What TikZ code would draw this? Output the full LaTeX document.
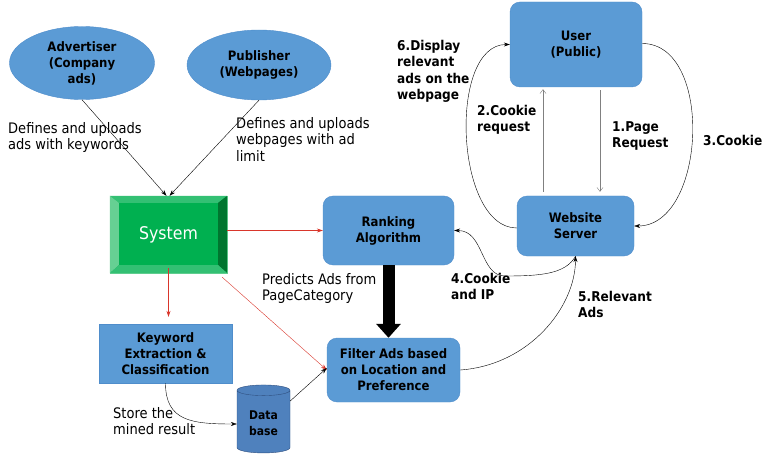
\documentclass[tikz,border=0pt]{standalone}
\usepackage{fontspec}
\setmainfont{DejaVu Sans Condensed}
\usetikzlibrary{arrows.meta,shapes.geometric,calc}

\definecolor{boxblue}{HTML}{5B9BD5}
\definecolor{boxline}{HTML}{4F8DCB}
\definecolor{dbblue}{HTML}{4F81BD}
\definecolor{dbline}{HTML}{2F4F7F}
\definecolor{sysface}{HTML}{00B050}
\definecolor{syslight}{HTML}{66D093}
\definecolor{systop}{HTML}{33C073}
\definecolor{sysdark}{HTML}{00762F}
\definecolor{redline}{HTML}{D9362B}

\newcommand{\nodefont}{\fontsize{13}{16}\selectfont\bfseries}
\newcommand{\labelfont}{\fontsize{14.5}{16.5}\selectfont}
\newcommand{\numfont}{\fontsize{13.5}{16.5}\selectfont\bfseries}

\tikzset{
  bluebox/.style={draw=boxline, fill=boxblue, rounded corners=10pt, align=center, font=\nodefont},
  flatbox/.style={draw=boxline, fill=boxblue, align=center, font=\nodefont},
  party/.style={ellipse, draw=boxline, fill=boxblue, align=center, font=\nodefont, inner sep=0pt},
  lbl/.style={anchor=north west, align=left, inner sep=0pt, font=\labelfont},
  numlbl/.style={lbl, font=\numfont},
  arr/.style={-{Stealth[length=6pt,width=4pt]}, black, thin},
  grayarr/.style={-{Straight Barb[length=4pt,width=6pt]}, gray, thin},
  redarr/.style={-{Stealth[length=6pt,width=4pt]}, redline, thin},
}

\begin{document}
\begin{tikzpicture}[x=1pt, y=-1pt]

    \useasboundingbox (0,0) rectangle (769,468);

    % Draw the two parties that feed the system
    \node[party, minimum width=145pt, minimum height=73pt] (adv) at (82,63) {Advertiser\\(Company\\ads)};
    \node[party, minimum width=144pt, minimum height=70pt] (pub) at (259,65) {Publisher\\(Webpages)};

    % Draw the system with its bevel
    \node[fill=sysface, draw=syslight, minimum width=117pt, minimum height=77pt] (sys) at (168.5,234.5) {};
    \fill[systop] (sys.north west) -- (sys.north east) -- ($(sys.north east)+(-9,7)$) -- ($(sys.north west)+(9,7)$) -- cycle;
    \fill[syslight] (sys.north west) -- ($(sys.north west)+(9,7)$) -- ($(sys.south west)+(9,-8)$) -- (sys.south west) -- cycle;
    \fill[sysdark] (sys.north east) -- (sys.south east) -- ($(sys.south east)+(-9,-8)$) -- ($(sys.north east)+(-9,7)$) -- cycle;
    \fill[systop] (sys.south west) -- ($(sys.south west)+(9,-8)$) -- ($(sys.south east)+(-9,-8)$) -- (sys.south east) -- cycle;
    \node[text=white, font=\fontsize{17.5}{20}\selectfont] (systext) at (sys) {System};

    % Draw the processing boxes
    \node[bluebox, minimum width=131pt, minimum height=69pt] (rank) at (388.5,230.5) {Ranking\\Algorithm};
    \node[flatbox, minimum width=133pt, minimum height=59pt] (key) at (165.5,353.5) {Keyword\\Extraction \&\\Classification};
    \node[bluebox, minimum width=133pt, minimum height=64pt] (filt) at (393.5,370) {Filter Ads based\\on Location and\\Preference};
    \node[cylinder, shape border rotate=90, aspect=0.3, draw=dbline, fill=dbblue,
          minimum width=53pt, minimum height=68pt, align=left, font=\fontsize{12}{16}\selectfont\bfseries] (db) at (263.5,423) {Data\\base};

    % Draw the user and the website server
    \node[bluebox, minimum width=132pt, minimum height=85pt] (user) at (576,44.5) {User\\(Public)};
    \node[bluebox, minimum width=117pt, minimum height=60pt] (web) at (575.5,226) {Website\\Server};

    % Connectors into the system
    \draw[arr] (adv.south) -- ([xshift=-2pt]sys.north);
    \draw[arr] (pub.south) -- ([xshift=1pt]sys.north);
    \node[lbl] (defads) at (8,122) {Defines and uploads\\ads with keywords};
    \node[lbl] (defweb) at (236,117) {Defines and uploads\\webpages with ad\\limit};

    % Red connectors out of the system
    \draw[redarr] (sys.east |- rank.west) -- (rank.west);
    \draw[redarr] ([yshift=5pt]sys.south) -- ([yshift=7pt]sys.south |- key.north);
    \draw[redarr] ([shift={(-5,4)}]sys.south east) -- (filt.west);

    % Ranking to filter
    \draw[line width=12pt, -{Triangle[length=14pt,width=24pt]}] (rank.south) -- (rank.south |- filt.north);
    \node[lbl] (predicts) at (262,273) {Predicts Ads from\\PageCategory};

    % Keyword extraction to database to filter
    \draw[arr] (key.south) .. controls +(0,38) and +(-45,0) .. ([yshift=-1pt]db.west);
    \node[lbl] (store) at (113,407) {Store the\\mined result};
    \draw[arr] ([yshift=22pt]db.east) -- ([yshift=2pt]filt.west);

    % User and website server
    \draw[grayarr] ([xshift=24pt,yshift=-3pt]user.south) -- ([xshift=24pt,yshift=4pt]user.south |- web.north);
    \draw[grayarr] ([xshift=-33pt,yshift=4pt]user.south |- web.north) -- ([xshift=-33pt,yshift=-2pt]user.south);
    \node[numlbl] (pagereq) at (612,121) {1.Page\\Request};
    \node[numlbl] (cookiereq) at (477,105) {2.Cookie\\request};
    \draw[arr] ([yshift=1pt]user.east) .. controls +(72,0) and +(72,0) .. (web.east);
    \node[numlbl] (cookie) at (703,135) {3.Cookie};
    \draw[arr] ([yshift=-2pt]web.west) .. controls +(-62,0) and +(-62,0) .. (user.west);
    \node[numlbl] (display) at (397,40) {6.Display\\relevant\\ads on the\\webpage};

    % Cookie and IP back to ranking, relevant ads up to the server
    \draw[arr] (web.south) .. controls +(-10,18) and +(35,0) .. (505,276)
               .. controls +(-25,0) and +(30,0) .. (rank.east);
    \node[numlbl] (cookieip) at (451,273) {4.Cookie\\and IP};
    \draw[arr] (filt.east) .. controls +(70,-5) and +(0,50) .. (web.south);
    \node[numlbl] (relevant) at (578,291) {5.Relevant\\Ads};

\end{tikzpicture}
\end{document}
